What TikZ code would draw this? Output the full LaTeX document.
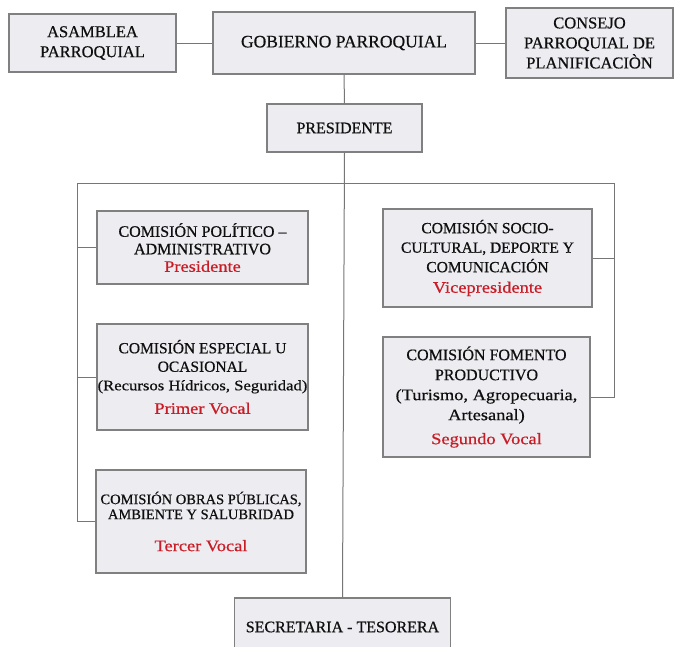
\documentclass[tikz,border=0pt]{standalone}
\usepackage{fontspec}
\setmainfont{Liberation Serif}[FakeBold=0.6]
\newfontfamily\widefont[FakeStretch=1.15,FakeBold=0.6]{Liberation Serif}
\definecolor{boxfill}{RGB}{236,236,241}
\definecolor{boxline}{RGB}{128,128,128}
\definecolor{linec}{RGB}{118,118,118}
\definecolor{redc}{RGB}{200,28,38}
\definecolor{txtc}{RGB}{15,15,15}
\newcommand\rtxt[1]{{\widefont\color{redc}#1}}
\newcommand\wtxt[1]{{\widefont #1}}
\tikzset{
  box/.style={draw=boxline, fill=boxfill, line width=1.2pt, inner sep=0pt,
    align=center, text=txtc, font=\fontsize{16.5}{20}\selectfont},
  conn/.style={draw=linec, line width=1pt}
}
\begin{document}
\begin{tikzpicture}[x=1pt,y=-1pt]
\clip (0,0) rectangle (675,646);
\fill[white] (0,0) rectangle (675,646);
% top row
\node[box, minimum width=167pt, minimum height=58pt] (asam) at (92.5,43) {ASAMBLEA\\PARROQUIAL};
\node[box, minimum width=262pt, minimum height=62pt, font=\fontsize{17.5}{20}\selectfont] (gob) at (344,43) {GOBIERNO PARROQUIAL};
\node[box, minimum width=167pt, minimum height=70pt] (cons) at (589.5,43) {CONSEJO\\PARROQUIAL DE\\PLANIFICACIÒN};
\node[box, minimum width=155pt, minimum height=48pt, font=\fontsize{16}{20}\selectfont] (pres) at (344.5,128) {PRESIDENTE};
% left column
\node[box, minimum width=211pt, minimum height=73pt, font=\fontsize{16}{17.5}\selectfont] (pol) at (202.5,247.5)
  {COMISIÓN POLÍTICO –\\ADMINISTRATIVO\\\rtxt{Presidente}};
\node[box, minimum width=211pt, minimum height=106pt, font=\fontsize{15.5}{18.5}\selectfont] (esp) at (202.5,377)
  {COMISIÓN ESPECIAL U\\OCASIONAL\\{\fontsize{14.5}{18.5}\selectfont\wtxt{(Recursos Hídricos, Seguridad)}}\\[5pt]{\fontsize{16}{18.5}\selectfont\rtxt{Primer Vocal}}};
\node[box, minimum width=210pt, minimum height=103pt, font=\fontsize{14.5}{15}\selectfont] (obr) at (201,521.5)
  {COMISIÓN OBRAS PÚBLICAS,\\AMBIENTE Y SALUBRIDAD\\[17pt]{\fontsize{16}{15}\selectfont\rtxt{Tercer Vocal}}};
% right column
\node[box, minimum width=209pt, minimum height=98pt, font=\fontsize{15.5}{19.5}\selectfont] (soc) at (487.5,258)
  {COMISIÓN SOCIO-\\CULTURAL, DEPORTE Y\\COMUNICACIÓN\\[1pt]{\fontsize{16}{19.5}\selectfont\rtxt{Vicepresidente}}};
\node[box, minimum width=207pt, minimum height=120pt, font=\fontsize{16}{20}\selectfont] (fom) at (486.5,397)
  {COMISIÓN FOMENTO\\PRODUCTIVO\\\wtxt{(Turismo, Agropecuaria,}\\\wtxt{Artesanal)}\\[4pt]\rtxt{Segundo Vocal}};
% bottom
\node[box, minimum width=216pt, minimum height=58pt, font=\fontsize{16}{20}\selectfont] (sec) at (342.5,627) {SECRETARIA - TESORERA};
% bus coordinates
\coordinate (busL) at (77,183);
\coordinate (busR) at (614,183);
% connectors
\draw[conn] (asam.east) -- (gob.west);
\draw[conn] (gob.east) -- (cons.west);
\draw[conn] (gob.south) -- (pres.north);
\draw[conn] (pres.south) -- (sec.north);
\draw[conn] (busL) -- (busR);
\draw[conn] (busL) -- (busL |- obr.west) -- (obr.west);
\draw[conn] (busL |- pol.west) -- (pol.west);
\draw[conn] (busL |- esp.west) -- (esp.west);
\draw[conn] (busR) -- (busR |- fom.east) -- (fom.east);
\draw[conn] (busR |- soc.east) -- (soc.east);
\end{tikzpicture}
\end{document}
